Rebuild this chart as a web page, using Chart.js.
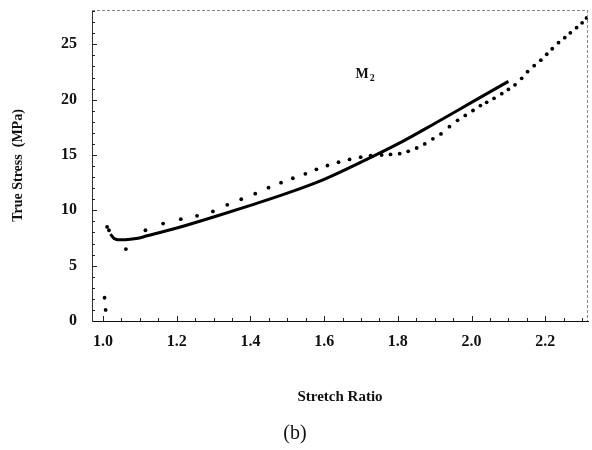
<!DOCTYPE html>
<html>
<head>
<meta charset="utf-8">
<script src="https://cdn.jsdelivr.net/npm/chart.js@4.4.1/dist/chart.umd.min.js"></script>
<style>
  html, body { margin: 0; padding: 0; background: #fff; }
  #wrap { width: 592px; height: 450px; }
</style>
</head>
<body>
<div id="wrap"><canvas id="stressChart"></canvas></div>
<script>
// experimental points (dotted)
const expStretch = [1.004, 1.007, 1.011, 1.016, 1.062, 1.115, 1.163, 1.211, 1.255, 1.298,
    1.337, 1.375, 1.413, 1.449, 1.483, 1.515, 1.549, 1.579, 1.609, 1.639,
    1.669, 1.699, 1.726, 1.756, 1.780, 1.805, 1.828, 1.851, 1.873, 1.895,
    1.917, 1.940, 1.962, 1.983, 2.004, 2.024, 2.041, 2.061, 2.082, 2.100,
    2.118, 2.136, 2.152, 2.170, 2.188, 2.204, 2.219, 2.236, 2.253, 2.268,
    2.285, 2.300, 2.312];
const expStress = [2.1, 1.0, 8.5, 8.2, 6.5, 8.2, 8.8, 9.2, 9.5, 9.9,
    10.5, 11.0, 11.5, 12.05, 12.5, 12.9, 13.3, 13.7, 14.05, 14.35,
    14.6, 14.8, 14.95, 15.0, 15.05, 15.12, 15.33, 15.63, 16.0, 16.46,
    16.9, 17.56, 18.13, 18.57, 19.02, 19.46, 19.76, 20.12, 20.54, 20.92,
    21.34, 21.93, 22.53, 23.07, 23.57, 24.1, 24.6, 25.15, 25.6, 26.04,
    26.5, 26.94, 27.38];

// model curve (solid)
const modelStretch = [1.02, 1.03, 1.04, 1.06, 1.09, 1.12, 1.2, 1.3, 1.4, 1.5, 1.6, 1.7, 1.8, 1.9, 2.0, 2.1];
const modelStress = [7.85, 7.45, 7.35, 7.35, 7.45, 7.7, 8.4, 9.4, 10.45, 11.55, 12.8, 14.35, 16.0, 17.85, 19.75, 21.65];

const xTicks = [1.0, 1.2, 1.4, 1.6, 1.8, 2.0, 2.2];
const yTicks = [0, 5, 10, 15, 20, 25];

const serif = '"Liberation Serif", "DejaVu Serif", serif';

const toPoints = (xs, ys) => xs.map((x, i) => ({ x: x, y: ys[i] }));

// ticks pointing inward, like the original plot, plus the dotted top/right frame and the M2 label
const plotExtras = {
    id: 'plotExtras',
    afterDatasetsDraw(chart) {
        const { ctx, chartArea: a, scales: { x, y } } = chart;
        ctx.save();
        ctx.strokeStyle = '#222';
        ctx.lineWidth = 1;
        ctx.beginPath();
        for (let i = 20; i <= 46; i++) {
            const px = Math.round(x.getPixelForValue(i * 0.05)) + 0.5;
            if (px < a.left || px > a.right) continue;
            const len = i % 4 === 0 ? 5 : 3;
            ctx.moveTo(px, a.bottom);
            ctx.lineTo(px, a.bottom - len);
        }
        for (let v = 1; v <= 28; v++) {
            const py = Math.round(y.getPixelForValue(v)) + 0.5;
            const len = v % 5 === 0 ? 5 : 3;
            ctx.moveTo(a.left, py);
            ctx.lineTo(a.left + len, py);
        }
        ctx.stroke();

        ctx.strokeStyle = '#888';
        ctx.setLineDash([3, 2]);
        ctx.beginPath();
        ctx.moveTo(a.left, a.top + 0.5);
        ctx.lineTo(a.right, a.top + 0.5);
        ctx.moveTo(a.right - 0.5, a.top);
        ctx.lineTo(a.right - 0.5, a.bottom);
        ctx.stroke();
        ctx.setLineDash([]);

        // curve label
        const lx = x.getPixelForValue(1.685);
        const ly = y.getPixelForValue(22.3);
        ctx.fillStyle = '#111';
        ctx.textBaseline = 'middle';
        ctx.font = 'bold 14px ' + serif;
        ctx.fillText('M', lx, ly);
        const mw = ctx.measureText('M').width;
        ctx.font = 'bold 10px ' + serif;
        ctx.fillText('2', lx + mw + 1, ly + 4);
        ctx.restore();
    }
};

new Chart(document.getElementById('stressChart'), {
    type: 'scatter',
    data: {
        datasets: [
            {
                label: 'Experiment',
                data: toPoints(expStretch, expStress),
                showLine: false,
                pointRadius: 1.9,
                pointBackgroundColor: '#000',
                pointBorderWidth: 0
            },
            {
                label: 'Model',
                data: toPoints(modelStretch, modelStress),
                showLine: true,
                borderColor: '#000',
                borderWidth: 3,
                pointRadius: 0,
                cubicInterpolationMode: 'monotone'
            }
        ]
    },
    options: {
        responsive: true,
        maintainAspectRatio: false,
        animation: false,
        layout: { padding: { top: 10, right: 2, left: 0, bottom: 0 } },
        plugins: {
            legend: { display: false },
            tooltip: { enabled: false },
            title: {
                display: true,
                position: 'bottom',
                text: '(b)',
                color: '#111',
                font: { family: serif, size: 20, weight: 'normal' },
                padding: { top: 0, bottom: 4 }
            }
        },
        scales: {
            x: {
                type: 'linear',
                min: 0.97,
                max: 2.316,
                afterBuildTicks: (s) => { s.ticks = xTicks.map(v => ({ value: v })); },
                afterFit: (s) => { s.height = 101; s.paddingLeft = 0; s.paddingRight = 0; },
                grid: { display: false },
                border: { display: true, color: '#111', width: 1 },
                ticks: {
                    color: '#111',
                    padding: 3,
                    font: { family: serif, size: 16, weight: 'bold' },
                    callback: (v) => v.toFixed(1)
                },
                title: {
                    display: true,
                    text: 'Stretch Ratio',
                    color: '#111',
                    font: { family: serif, size: 15, weight: 'bold' },
                    padding: { top: 0, bottom: 16 }
                }
            },
            y: {
                type: 'linear',
                min: 0,
                max: 28.1,
                afterBuildTicks: (s) => { s.ticks = yTicks.map(v => ({ value: v })); },
                afterFit: (s) => { s.width = 92; s.paddingTop = 0; s.paddingBottom = 0; },
                grid: { display: false },
                border: { display: true, color: '#333', width: 1 },
                ticks: {
                    color: '#111',
                    padding: 7,
                    font: { family: serif, size: 16, weight: 'bold' }
                },
                title: {
                    display: true,
                    text: 'True Stress  (MPa)',
                    color: '#111',
                    font: { family: serif, size: 14, weight: 'bold' },
                    padding: { top: 10, bottom: 0 }
                }
            }
        }
    },
    plugins: [plotExtras]
});
</script>
</body>
</html>
